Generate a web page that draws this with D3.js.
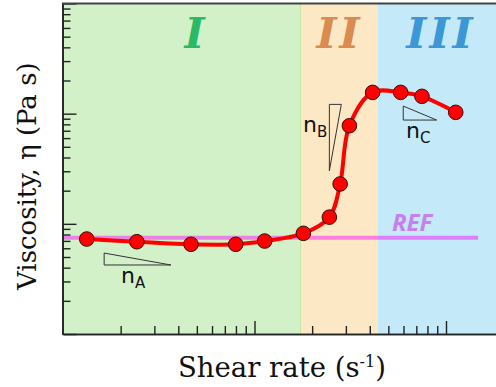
<!DOCTYPE html>
<html>
<head>
<meta charset="utf-8">
<script src="https://cdn.jsdelivr.net/npm/d3@7"></script>
<style>
  html, body { margin: 0; padding: 0; background: #fff; }
  svg { display: block; }
</style>
</head>
<body>
<svg id="chart" width="496" height="387"></svg>
<script>
// Flow curve: viscosity vs shear rate (log-log), three flow regimes
const shearRate = [1.33, 2.43, 4.66, 7.98, 11.3, 18.0, 24.6, 28.0, 31.3, 41.4, 58.0, 74.9, 112.4];
const viscosity = [7.28, 6.88, 6.52, 6.52, 6.98, 8.2, 11.5, 23.0, 77.7, 156, 156, 143.6, 102.8];

// Regime boundaries along the shear-rate axis
const regimeNames = ["I", "II", "III"];
const regimeStart = [1, 17.4, 44.0];
const regimeEnd = [17.4, 44.0, 1000];
const regimeFill = ["#d3f1c9", "#fde8c5", "#c4eaf9"];
const regimeText = ["#2aba66", "#d98b50", "#3b97d5"];

// Reference viscosity level
const refViscosity = 7.46;
const refShearRange = [1, 147];

// Power-law slope triangles (corner points in data units)
const slopeNames = ["A", "B", "C"];
const slopeTriX = [[1.64, 1.64, 3.66], [24.6, 28.4, 24.6], [59.8, 59.8, 89.4]];
const slopeTriY = [[5.43, 4.23, 4.23], [121.4, 121.4, 30.3], [117.2, 87.5, 87.5]];

// Log-axis tick values
const xMajor = [1, 10, 100, 1000];
const yMajor = [1, 10, 100, 1000];
const minorOf = majors => majors.slice(0, -1).flatMap(m => d3.range(2, 10).map(k => k * m));

const svg = d3.select("#chart");

const x = d3.scaleLog().domain([1, 1000]).range([63, 637.5]);
const y = d3.scaleLog().domain([1, 1000]).range([334, 3.5]);

// Regime backgrounds
svg.append("g").selectAll("rect")
  .data(regimeNames)
  .join("rect")
  .attr("x", (d, i) => x(regimeStart[i]))
  .attr("width", (d, i) => x(regimeEnd[i]) - x(regimeStart[i]))
  .attr("y", y(1000))
  .attr("height", y(1) - y(1000))
  .attr("fill", (d, i) => regimeFill[i]);

// Thin divider between regimes I and II
svg.append("line")
  .attr("x1", x(regimeStart[1])).attr("x2", x(regimeStart[1]))
  .attr("y1", y(1000)).attr("y2", y(1))
  .attr("stroke", "#c2e69c").attr("stroke-width", 1);

// Regime labels
const labelX = [196, 339.5, 441];
svg.append("g").selectAll("text")
  .data(regimeNames)
  .join("text")
  .attr("x", (d, i) => labelX[i])
  .attr("y", 48)
  .attr("text-anchor", "middle")
  .attr("font-family", "DejaVu Serif")
  .attr("font-weight", "bold")
  .attr("font-style", "italic")
  .attr("font-size", 43)
  .attr("letter-spacing", 3)
  .attr("fill", (d, i) => regimeText[i])
  .text(d => d);

// Reference line and label
svg.append("line")
  .attr("x1", x(refShearRange[0])).attr("x2", x(refShearRange[1]))
  .attr("y1", y(refViscosity)).attr("y2", y(refViscosity))
  .attr("stroke", "#ff00ff").attr("stroke-opacity", 0.45).attr("stroke-width", 4);

svg.append("text")
  .attr("x", 392).attr("y", 230.5)
  .attr("font-family", "Open Sans").attr("font-weight", "bold").attr("font-style", "italic")
  .attr("font-size", 24).attr("fill", "#c880f0")
  .text("REF");

// Axes: ticks point into the plot
const axisG = svg.append("g");
function styleAxis(g) {
  g.selectAll("text").remove();
  g.selectAll("path.domain").attr("stroke", "#222").attr("stroke-width", 1.6);
  g.selectAll(".tick line").attr("stroke", "#222").attr("stroke-width", 1.4);
}
axisG.append("g").attr("transform", "translate(62.5,0)")
  .call(d3.axisLeft(y).tickValues(yMajor).tickSize(-14).tickSizeOuter(0).tickFormat(""))
  .call(styleAxis);
axisG.append("g").attr("transform", "translate(62.5,0)")
  .call(d3.axisLeft(y).tickValues(minorOf(yMajor)).tickSize(-8).tickSizeOuter(0).tickFormat(""))
  .call(styleAxis);
axisG.append("g").attr("transform", "translate(0,334)")
  .call(d3.axisBottom(x).tickValues(xMajor.slice(1)).tickSize(-13).tickSizeOuter(0).tickFormat(""))
  .call(styleAxis);
axisG.append("g").attr("transform", "translate(0,334)")
  .call(d3.axisBottom(x).tickValues(minorOf(xMajor)).tickSize(-8).tickSizeOuter(0).tickFormat(""))
  .call(styleAxis);

// Top frame edge
svg.append("line")
  .attr("x1", 62).attr("x2", 496)
  .attr("y1", y(1000)).attr("y2", y(1000))
  .attr("stroke", "#444").attr("stroke-width", 2);

// Slope triangles with labels
const triLine = d3.line();
svg.append("g").selectAll("path")
  .data(slopeNames)
  .join("path")
  .attr("d", (d, i) => triLine(slopeTriX[i].map((v, j) => [x(v), y(slopeTriY[i][j])])) + "Z")
  .attr("fill", "none").attr("stroke", "#333").attr("stroke-width", 1);

const slopeLabelPos = [[121, 282.5], [303, 132], [406, 138]];
const slopeLabels = svg.append("g").selectAll("text")
  .data(slopeNames)
  .join("text")
  .attr("x", (d, i) => slopeLabelPos[i][0])
  .attr("y", (d, i) => slopeLabelPos[i][1])
  .attr("font-family", "DejaVu Sans")
  .attr("font-size", 22)
  .attr("fill", "#111");
slopeLabels.append("tspan").text("n");
slopeLabels.append("tspan").attr("font-size", 15).attr("dy", 5).text(d => d);

// Fitted curve through the measurements
const pts = shearRate.map((s, i) => [x(s), y(viscosity[i])]);
svg.append("path")
  .attr("d", d3.line().curve(d3.curveCatmullRom.alpha(0.5))(pts))
  .attr("fill", "none").attr("stroke", "#ff0000").attr("stroke-width", 4);

svg.append("g").selectAll("circle")
  .data(pts)
  .join("circle")
  .attr("cx", d => d[0]).attr("cy", d => d[1]).attr("r", 7.3)
  .attr("fill", "#ff0000").attr("stroke", "#3a0a0a").attr("stroke-width", 1);

// Axis titles
const xt = svg.append("text")
  .attr("x", 178).attr("y", 376.5)
  .attr("font-family", "DejaVu Serif").attr("font-size", 27.5).attr("fill", "#111");
xt.append("tspan").text("Shear rate (s");
xt.append("tspan").attr("font-size", 16).attr("dy", -10).text("-1");
xt.append("tspan").attr("dy", 10).text(")");

svg.append("text")
  .attr("transform", "translate(36,290) rotate(-90)")
  .attr("font-family", "DejaVu Serif").attr("font-size", 26).attr("fill", "#111")
  .text("Viscosity, η (Pa s)");
</script>
</body>
</html>
